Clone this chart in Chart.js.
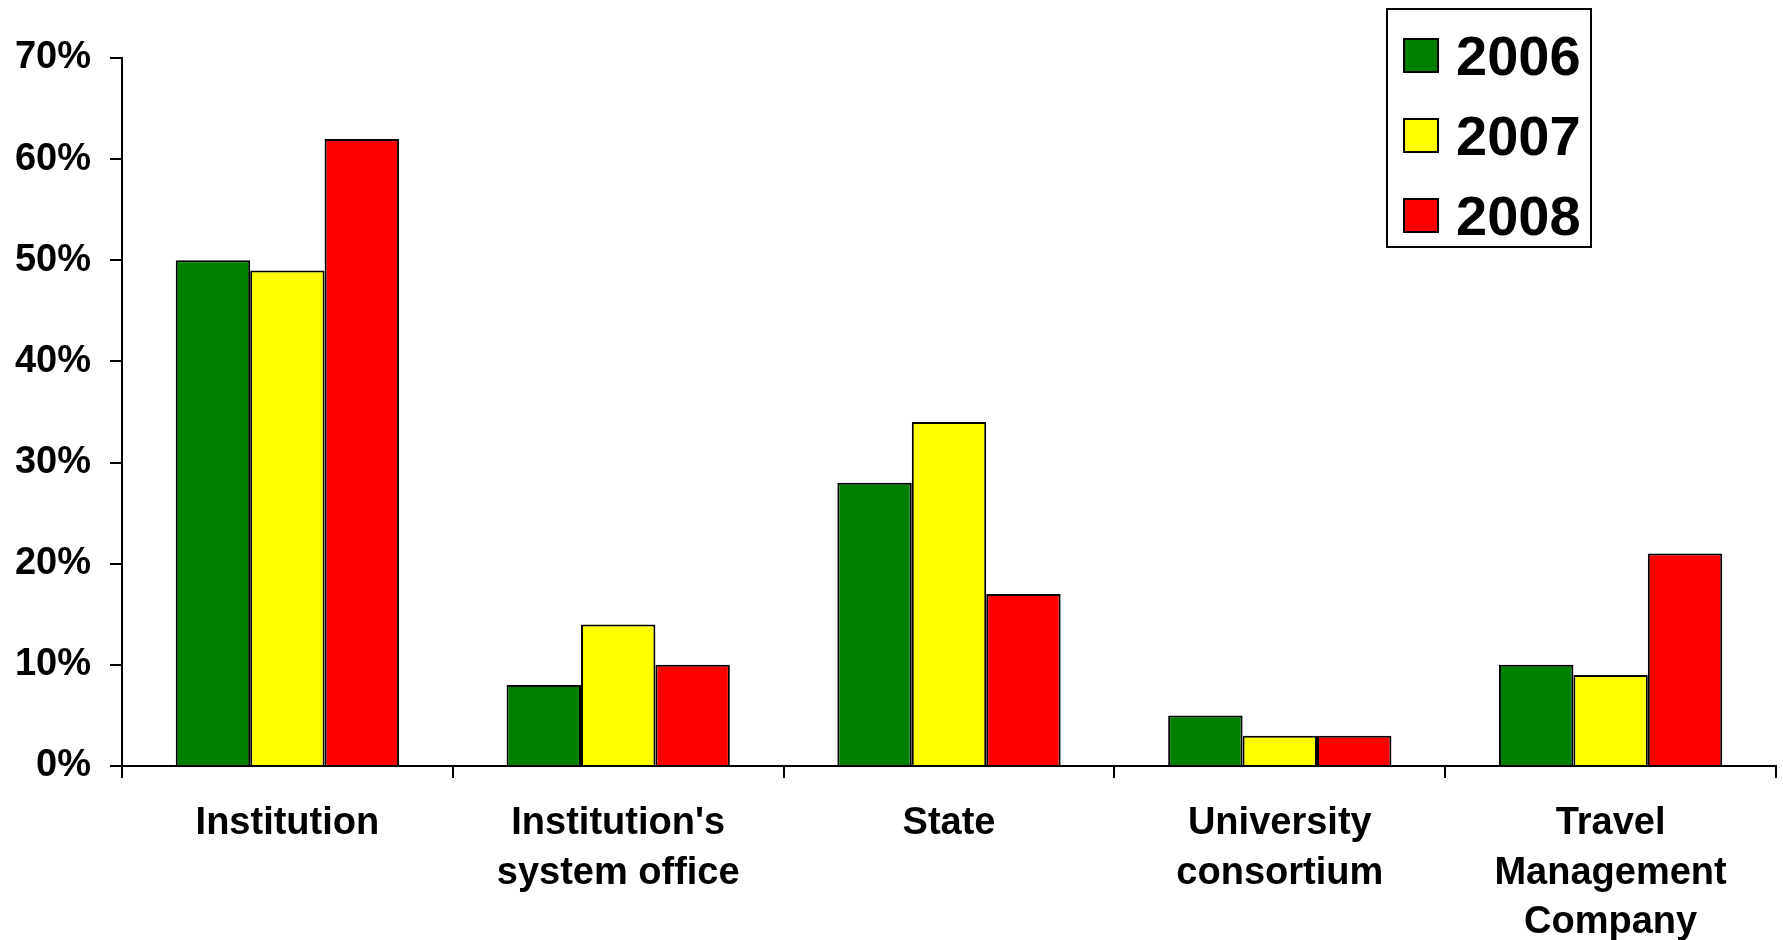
<!DOCTYPE html>
<html>
<head>
<meta charset="utf-8">
<script src="https://cdn.jsdelivr.net/npm/chart.js@4.4.1/dist/chart.umd.min.js"></script>
<style>
  html, body { margin: 0; padding: 0; background: #fff; }
  #wrap { position: relative; width: 1783px; height: 940px; }
  #c { position: absolute; left: 0; top: 0; }
  #legend { position: absolute; left: 1386px; top: 8px; width: 202px; height: 236px; border: 2px solid #000; background: #fff;
            font-family: "Liberation Sans", Arial, sans-serif; font-weight: bold; font-size: 56px; color: #000; }
  .row { position: absolute; left: 0; height: 60px; display: flex; align-items: center; }
  .sw { width: 32px; height: 31px; border: 2px solid #000; margin-left: 15px; margin-right: 17px; }
</style>
</head>
<body>
<div id="wrap">
  <canvas id="c" width="1783" height="940"></canvas>
  <div id="legend"></div>
</div>
<script>
const categories = [["Institution"], ["Institution's", "system office"], ["State"], ["University", "consortium"], ["Travel", "Management", "Company"]];
const seriesNames = ["2006", "2007", "2008"];
const values2006 = [50, 8, 28, 5, 10];
const values2007 = [49, 14, 34, 3, 9];
const values2008 = [62, 10, 17, 3, 21];
const seriesColors = ["#008000", "#FFFF00", "#FF0000"];
const yTicks = [0, 10, 20, 30, 40, 50, 60, 70];

const FONT = '"Liberation Sans", Arial, sans-serif';
const allValues = [values2006, values2007, values2008];

const legend = document.getElementById('legend');
seriesNames.forEach((n, i) => {
  const r = document.createElement('div');
  r.className = 'row';
  r.style.top = (15 + i * 80) + 'px';
  r.innerHTML = '<div class="sw" style="background:' + seriesColors[i] + '"></div><span>' + n + '</span>';
  legend.appendChild(r);
});

new Chart(document.getElementById('c'), {
  type: 'bar',
  data: {
    labels: categories,
    datasets: seriesNames.map((n, i) => ({
      label: n,
      data: allValues[i],
      backgroundColor: seriesColors[i],
      borderColor: '#000',
      borderWidth: 2,
      borderSkipped: 'bottom',
      categoryPercentage: 0.675,
      barPercentage: 1.0
    }))
  },
  options: {
    responsive: false,
    animation: false,
    devicePixelRatio: 1,
    layout: { padding: { top: 58, right: 7, left: 0, bottom: 0 } },
    plugins: { legend: { display: false }, tooltip: { enabled: false } },
    scales: {
      x: {
        grid: { display: true, offset: true, drawOnChartArea: false, drawTicks: true, tickLength: 12, color: '#000', lineWidth: 2 },
        border: { display: true, color: '#000', width: 2 },
        ticks: { color: '#000', font: { family: FONT, size: 38, weight: 'bold', lineHeight: 1.3 }, padding: 21, maxRotation: 0, autoSkip: false },
        afterFit: s => { s.height = 174; }
      },
      y: {
        min: 0, max: 70,
        afterBuildTicks: s => { s.ticks = yTicks.map(v => ({ value: v })); },
        grid: { display: true, drawOnChartArea: false, drawTicks: true, tickLength: 12, color: '#000', lineWidth: 2 },
        border: { display: true, color: '#000', width: 2 },
        ticks: { color: '#000', font: { family: FONT, size: 38, weight: 'bold' }, padding: 19, callback: v => v + '%' },
        afterFit: s => { s.width = 122; }
      }
    }
  }
});
</script>
</body>
</html>
